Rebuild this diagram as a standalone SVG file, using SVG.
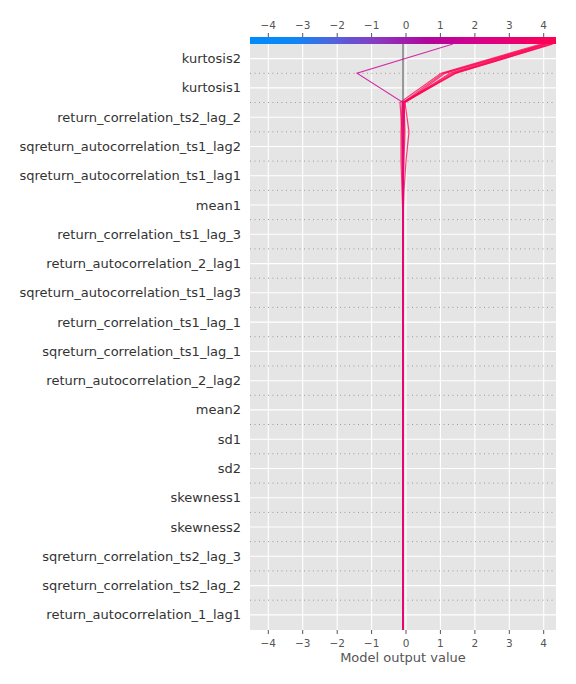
<svg xmlns="http://www.w3.org/2000/svg" width="576" height="684" viewBox="0 0 576 684">
<defs>
<linearGradient id="cb" x1="0" y1="0" x2="1" y2="0">
<stop offset="0" stop-color="#008bfb"/>
<stop offset="0.15" stop-color="#0f86f6"/>
<stop offset="0.28" stop-color="#5560dc"/>
<stop offset="0.42" stop-color="#8a38c0"/>
<stop offset="0.58" stop-color="#b0069e"/>
<stop offset="0.75" stop-color="#d8008a"/>
<stop offset="1" stop-color="#ff0052"/>
</linearGradient>
<style>
.feat{font-family:"DejaVu Sans",sans-serif;font-size:13px;fill:#333;text-anchor:end}
.tick{font-family:"DejaVu Sans",sans-serif;font-size:10.5px;fill:#555;text-anchor:middle}
.axl{font-family:"DejaVu Sans",sans-serif;font-size:13px;fill:#555;text-anchor:middle}
.vg{stroke:#fff;stroke-width:1.1}
.hg{stroke:#fff;stroke-width:1.1}
.dot{stroke:#999;stroke-width:1;stroke-dasharray:1 3.5}
.tm{stroke:#555;stroke-width:1}
.red{fill:none;stroke:#ff0052;stroke-width:1.2;stroke-opacity:0.75}
.mag{fill:none;stroke:#cc0c9a;stroke-width:1.1}
</style>
</defs>
<rect width="576" height="684" fill="#fff"/>
<g id="plot-area">
<rect x="250" y="44" width="306" height="586" fill="#e5e5e5"/>
<g id="vgrid">
<line class="vg" x1="268.3" y1="44" x2="268.3" y2="630"/>
<line class="vg" x1="302.7" y1="44" x2="302.7" y2="630"/>
<line class="vg" x1="337.2" y1="44" x2="337.2" y2="630"/>
<line class="vg" x1="371.6" y1="44" x2="371.6" y2="630"/>
<line class="vg" x1="406" y1="44" x2="406" y2="630"/>
<line class="vg" x1="440.4" y1="44" x2="440.4" y2="630"/>
<line class="vg" x1="474.9" y1="44" x2="474.9" y2="630"/>
<line class="vg" x1="509.3" y1="44" x2="509.3" y2="630"/>
<line class="vg" x1="543.7" y1="44" x2="543.7" y2="630"/>
</g>
<g id="hgrid">
<line class="hg" x1="250" y1="58.6" x2="556" y2="58.6"/>
<line class="hg" x1="250" y1="87.9" x2="556" y2="87.9"/>
<line class="hg" x1="250" y1="117.2" x2="556" y2="117.2"/>
<line class="hg" x1="250" y1="146.5" x2="556" y2="146.5"/>
<line class="hg" x1="250" y1="175.7" x2="556" y2="175.7"/>
<line class="hg" x1="250" y1="205" x2="556" y2="205"/>
<line class="hg" x1="250" y1="234.3" x2="556" y2="234.3"/>
<line class="hg" x1="250" y1="263.6" x2="556" y2="263.6"/>
<line class="hg" x1="250" y1="292.8" x2="556" y2="292.8"/>
<line class="hg" x1="250" y1="322.1" x2="556" y2="322.1"/>
<line class="hg" x1="250" y1="351.4" x2="556" y2="351.4"/>
<line class="hg" x1="250" y1="380.7" x2="556" y2="380.7"/>
<line class="hg" x1="250" y1="409.9" x2="556" y2="409.9"/>
<line class="hg" x1="250" y1="439.2" x2="556" y2="439.2"/>
<line class="hg" x1="250" y1="468.5" x2="556" y2="468.5"/>
<line class="hg" x1="250" y1="497.8" x2="556" y2="497.8"/>
<line class="hg" x1="250" y1="527" x2="556" y2="527"/>
<line class="hg" x1="250" y1="556.3" x2="556" y2="556.3"/>
<line class="hg" x1="250" y1="585.6" x2="556" y2="585.6"/>
<line class="hg" x1="250" y1="614.9" x2="556" y2="614.9"/>
</g>
<g id="dotted">
<line class="dot" x1="250" y1="73.3" x2="556" y2="73.3"/>
<line class="dot" x1="250" y1="102.5" x2="556" y2="102.5"/>
<line class="dot" x1="250" y1="131.8" x2="556" y2="131.8"/>
<line class="dot" x1="250" y1="161.1" x2="556" y2="161.1"/>
<line class="dot" x1="250" y1="190.4" x2="556" y2="190.4"/>
<line class="dot" x1="250" y1="219.6" x2="556" y2="219.6"/>
<line class="dot" x1="250" y1="248.9" x2="556" y2="248.9"/>
<line class="dot" x1="250" y1="278.2" x2="556" y2="278.2"/>
<line class="dot" x1="250" y1="307.4" x2="556" y2="307.4"/>
<line class="dot" x1="250" y1="336.7" x2="556" y2="336.7"/>
<line class="dot" x1="250" y1="366" x2="556" y2="366"/>
<line class="dot" x1="250" y1="395.3" x2="556" y2="395.3"/>
<line class="dot" x1="250" y1="424.5" x2="556" y2="424.5"/>
<line class="dot" x1="250" y1="453.8" x2="556" y2="453.8"/>
<line class="dot" x1="250" y1="483.1" x2="556" y2="483.1"/>
<line class="dot" x1="250" y1="512.4" x2="556" y2="512.4"/>
<line class="dot" x1="250" y1="541.6" x2="556" y2="541.6"/>
<line class="dot" x1="250" y1="570.9" x2="556" y2="570.9"/>
<line class="dot" x1="250" y1="600.2" x2="556" y2="600.2"/>
</g>
<line id="base-line" x1="403" y1="44" x2="403" y2="630" stroke="#999" stroke-width="2"/>
</g>
<g id="colorbar">
<rect x="250" y="37" width="306" height="7" fill="url(#cb)"/>
</g>
<g id="axes-ticks">
<g class="tm">
<line x1="268.3" y1="33" x2="268.3" y2="37"/><line x1="302.7" y1="33" x2="302.7" y2="37"/><line x1="337.2" y1="33" x2="337.2" y2="37"/><line x1="371.6" y1="33" x2="371.6" y2="37"/><line x1="406" y1="33" x2="406" y2="37"/><line x1="440.4" y1="33" x2="440.4" y2="37"/><line x1="474.9" y1="33" x2="474.9" y2="37"/><line x1="509.3" y1="33" x2="509.3" y2="37"/><line x1="543.7" y1="33" x2="543.7" y2="37"/>
<line x1="268.3" y1="630" x2="268.3" y2="634"/><line x1="302.7" y1="630" x2="302.7" y2="634"/><line x1="337.2" y1="630" x2="337.2" y2="634"/><line x1="371.6" y1="630" x2="371.6" y2="634"/><line x1="406" y1="630" x2="406" y2="634"/><line x1="440.4" y1="630" x2="440.4" y2="634"/><line x1="474.9" y1="630" x2="474.9" y2="634"/><line x1="509.3" y1="630" x2="509.3" y2="634"/><line x1="543.7" y1="630" x2="543.7" y2="634"/>
</g>
<text class="tick" x="268.3" y="28.5">−4</text><text class="tick" x="302.7" y="28.5">−3</text><text class="tick" x="337.2" y="28.5">−2</text><text class="tick" x="371.6" y="28.5">−1</text><text class="tick" x="406" y="28.5">0</text><text class="tick" x="440.4" y="28.5">1</text><text class="tick" x="474.9" y="28.5">2</text><text class="tick" x="509.3" y="28.5">3</text><text class="tick" x="543.7" y="28.5">4</text>
<text class="tick" x="268.3" y="647">−4</text><text class="tick" x="302.7" y="647">−3</text><text class="tick" x="337.2" y="647">−2</text><text class="tick" x="371.6" y="647">−1</text><text class="tick" x="406" y="647">0</text><text class="tick" x="440.4" y="647">1</text><text class="tick" x="474.9" y="647">2</text><text class="tick" x="509.3" y="647">3</text><text class="tick" x="543.7" y="647">4</text>
<text class="axl" x="403" y="661.5">Model output value</text>
</g>
<g id="feature-labels">
<text class="feat" x="241" y="63.1">kurtosis2</text>
<text class="feat" x="241" y="92.4">kurtosis1</text>
<text class="feat" x="241" y="121.7">return_correlation_ts2_lag_2</text>
<text class="feat" x="241" y="151">sqreturn_autocorrelation_ts1_lag2</text>
<text class="feat" x="241" y="180.2">sqreturn_autocorrelation_ts1_lag1</text>
<text class="feat" x="241" y="209.5">mean1</text>
<text class="feat" x="241" y="238.8">return_correlation_ts1_lag_3</text>
<text class="feat" x="241" y="268.1">return_autocorrelation_2_lag1</text>
<text class="feat" x="241" y="297.3">sqreturn_autocorrelation_ts1_lag3</text>
<text class="feat" x="241" y="326.6">return_correlation_ts1_lag_1</text>
<text class="feat" x="241" y="355.9">sqreturn_correlation_ts1_lag_1</text>
<text class="feat" x="241" y="385.2">return_autocorrelation_2_lag2</text>
<text class="feat" x="241" y="414.4">mean2</text>
<text class="feat" x="241" y="443.7">sd1</text>
<text class="feat" x="241" y="473">sd2</text>
<text class="feat" x="241" y="502.3">skewness1</text>
<text class="feat" x="241" y="531.5">skewness2</text>
<text class="feat" x="241" y="560.8">sqreturn_correlation_ts2_lag_3</text>
<text class="feat" x="241" y="590.1">sqreturn_correlation_ts2_lag_2</text>
<text class="feat" x="241" y="619.4">return_autocorrelation_1_lag1</text>
</g>
<g id="connectors">
<polyline class="red" points="552,44 456,73.3 404,102.5 404,131.8 403,161.1 403,190.4 403,219.6 403,630"/>
<polyline class="red" points="550,44 454,73.3 405,102.5 409,131.8 406,161.1 404,190.4 403,219.6 403,630"/>
<polyline class="red" points="548,44 452,73.3 403,102.5 402,131.8 402,161.1 403,190.4 403,219.6 403,630"/>
<polyline class="red" points="546,44 450,73.3 404,102.5 405,131.8 404,161.1 403,190.4 403,219.6 403,630"/>
<polyline class="red" points="553,44 455,73.3 402,102.5 401,131.8 401,161.1 402,190.4 403,219.6 403,630"/>
<polyline class="red" points="544,44 443,73.3 403,102.5 404,131.8 403,161.1 403,190.4 403,630"/>
<polyline class="red" points="545,44 445,73.3 405,102.5 403,131.8 403,161.1 403,630"/>
<polyline class="red" points="541,44 441,73.3 400,102.5 402,131.8 403,161.1 403,630"/>
<polyline class="mag" points="453,44 357,73.3 403,102.5 403,630" stroke-opacity="0.85"/>
</g>
</svg>
